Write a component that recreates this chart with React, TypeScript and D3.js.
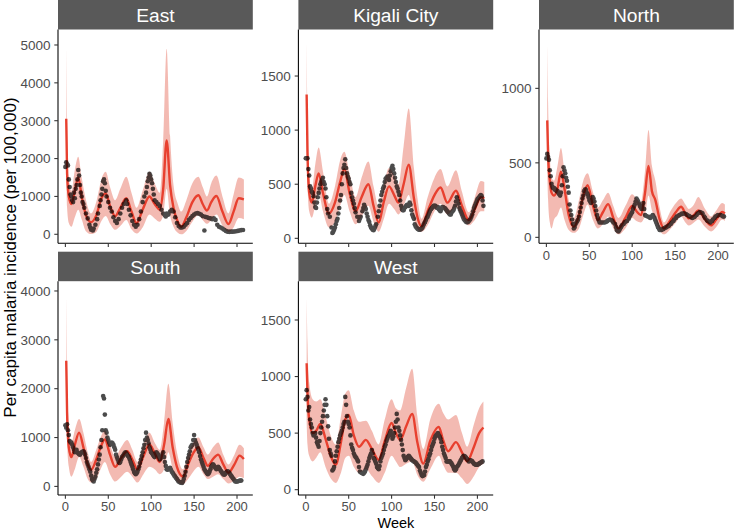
import React from "react";
import * as d3 from "d3";

type Obs = [number, number];
type Fit = [number, number, number, number]; // week, lower, mean, upper

const weekTicks = [0, 50, 100, 150, 200];

// ---------- East ----------
const eastYTicks = [0, 1000, 2000, 3000, 4000, 5000];
const eastFit: Fit[] = [
  [1, 1700, 3050, 4950], [2, 700, 1600, 2900], [4, 300, 1000, 1500], [7, 200, 800, 1150],
  [11, 450, 1150, 1700], [15, 650, 1500, 2050], [19, 400, 1000, 1500], [24, 80, 500, 900],
  [30, 5, 320, 550], [36, 60, 500, 850], [42, 350, 950, 1450], [47, 480, 1080, 1650],
  [52, 280, 750, 1250], [58, 120, 480, 900], [64, 220, 700, 1200], [71, 380, 950, 1520],
  [77, 130, 600, 1100], [83, 20, 290, 700], [90, 180, 650, 1150], [98, 520, 1000, 1650],
  [104, 420, 800, 1350], [110, 330, 650, 1100], [114, 500, 1200, 2500], [118, 1200, 2480, 4900],
  [122, 500, 1300, 2600], [126, 200, 700, 1300], [131, 40, 330, 800], [135, 0, 200, 600],
  [141, 90, 450, 900], [148, 330, 850, 1350], [155, 500, 1030, 1520], [160, 380, 800, 1250],
  [165, 280, 630, 1000], [170, 380, 850, 1350], [176, 520, 1010, 1550], [183, 230, 600, 1000],
  [190, 60, 270, 550], [196, 180, 600, 1050], [202, 430, 950, 1500], [208, 400, 920, 1450],
];
const eastObs: Obs[] = [
  [0, 1780], [1, 1900], [2, 1850], [3, 1820], [4, 1450], [5, 1250], [6, 1050], [7, 1000], [8, 900],
  [9, 850], [10, 1100], [11, 950], [12, 1200], [13, 1300], [14, 1450], [15, 1700], [16, 1550],
  [17, 1300], [18, 1100], [19, 1000], [20, 850], [21, 800], [22, 700], [24, 550], [26, 420],
  [28, 250], [29, 180], [30, 120], [32, 100], [33, 150], [35, 250], [37, 400], [38, 550], [40, 750],
  [41, 900], [42, 1050], [43, 1200], [44, 1400], [45, 1450], [46, 1350], [47, 1150], [48, 1000],
  [50, 850], [52, 700], [54, 600], [56, 450], [58, 350], [60, 300], [62, 400], [64, 550], [66, 700],
  [68, 800], [70, 850], [71, 900], [72, 800], [74, 650], [76, 500], [78, 350], [80, 250], [82, 200],
  [84, 250], [86, 400], [88, 600], [90, 850], [92, 1000], [94, 1100], [95, 1250], [96, 1400],
  [97, 1500], [98, 1600], [99, 1550], [100, 1450], [101, 1350], [102, 1200], [103, 1050], [104, 900],
  [106, 850], [108, 800], [110, 750], [112, 650], [114, 550], [116, 500], [117, 470], [118, 550],
  [120, 520], [122, 600], [124, 650], [126, 600], [128, 450], [130, 300], [132, 220], [134, 180],
  [136, 180], [138, 200], [140, 250], [142, 300], [144, 380], [146, 430], [148, 480], [150, 520],
  [152, 550], [154, 560], [156, 540], [158, 520], [160, 480], [162, 100], [163, 460], [165, 450],
  [167, 430], [169, 420], [171, 400], [173, 420], [175, 380], [177, 250], [179, 200], [181, 180],
  [183, 150], [185, 120], [187, 90], [189, 70], [191, 65], [193, 70], [195, 70], [197, 75],
  [199, 80], [201, 90], [203, 100], [205, 110], [207, 115],
];

// ---------- Kigali City ----------
const kigaliYTicks = [0, 500, 1000, 1500];
const kigaliFit: Fit[] = [
  [1, 800, 1330, 1830], [2, 500, 800, 1100], [4, 250, 420, 600], [7, 190, 330, 450],
  [11, 300, 480, 680], [15, 420, 600, 840], [20, 250, 420, 620], [27, 100, 230, 320],
  [34, 150, 330, 480], [40, 300, 520, 720], [45, 400, 640, 800], [51, 250, 420, 600],
  [58, 130, 250, 380], [65, 200, 380, 560], [73, 300, 500, 710], [79, 150, 300, 480],
  [85, 60, 145, 290], [91, 180, 340, 500], [97, 320, 480, 650], [103, 270, 400, 580],
  [108, 220, 330, 500], [114, 300, 500, 850], [120, 400, 680, 1200], [126, 180, 370, 650],
  [130, 90, 200, 380], [135, 60, 110, 180], [142, 120, 250, 380], [150, 250, 400, 560],
  [157, 320, 470, 640], [165, 220, 330, 480], [175, 290, 440, 630], [182, 200, 300, 430],
  [190, 120, 170, 240], [197, 170, 270, 380], [204, 250, 380, 530], [208, 250, 370, 520],
];
const kigaliObs: Obs[] = [
  [0, 740], [1, 740], [2, 740], [3, 640], [4, 580], [5, 480], [6, 460], [7, 430], [8, 420],
  [9, 390], [10, 330], [11, 290], [12, 280], [13, 330], [14, 380], [15, 420], [16, 460], [17, 500],
  [18, 520], [19, 540], [20, 560], [21, 520], [22, 500], [23, 460], [24, 380], [25, 270], [26, 230],
  [28, 200], [30, 100], [31, 50], [32, 60], [33, 80], [34, 100], [35, 130], [36, 160], [37, 180],
  [38, 230], [39, 280], [40, 350], [41, 400], [42, 500], [43, 600], [44, 650], [45, 680], [46, 730],
  [47, 650], [48, 600], [49, 570], [50, 550], [51, 520], [52, 500], [53, 420], [54, 380], [55, 350],
  [56, 320], [57, 280], [58, 240], [60, 200], [62, 160], [63, 180], [64, 200], [66, 250], [67, 280],
  [68, 310], [69, 290], [70, 270], [71, 230], [72, 200], [73, 170], [74, 150], [75, 120], [76, 100],
  [77, 90], [78, 80], [79, 75], [80, 90], [81, 110], [82, 130], [84, 200], [85, 250], [86, 300],
  [87, 350], [88, 400], [89, 430], [90, 460], [91, 480], [92, 520], [93, 550], [94, 560], [95, 570],
  [96, 560], [97, 540], [98, 580], [99, 620], [100, 650], [101, 670], [102, 640], [103, 600],
  [104, 560], [105, 520], [106, 480], [107, 460], [108, 430], [109, 400], [110, 350], [111, 300],
  [112, 270], [113, 260], [114, 260], [115, 280], [116, 290], [117, 300], [118, 310], [119, 300],
  [120, 300], [121, 330], [122, 310], [123, 260], [124, 220], [125, 200], [126, 180], [127, 130],
  [128, 110], [129, 100], [130, 90], [131, 85], [132, 80], [133, 80], [134, 85], [135, 90],
  [136, 100], [137, 120], [138, 140], [139, 150], [140, 170], [141, 190], [142, 200], [143, 220],
  [144, 240], [145, 260], [146, 270], [147, 280], [148, 290], [149, 300], [150, 300], [151, 300],
  [152, 290], [153, 280], [154, 290], [155, 270], [156, 260], [157, 250], [158, 270], [159, 290],
  [160, 290], [161, 280], [162, 280], [163, 270], [164, 260], [165, 250], [166, 240], [167, 230],
  [168, 220], [169, 220], [170, 240], [171, 250], [172, 260], [173, 280], [174, 300], [175, 340],
  [176, 380], [177, 350], [178, 320], [179, 280], [180, 260], [181, 240], [182, 220], [183, 200],
  [184, 180], [185, 170], [186, 160], [187, 150], [188, 150], [189, 150], [190, 160], [191, 170],
  [192, 180], [193, 200], [194, 220], [195, 250], [196, 280], [197, 300], [198, 320], [199, 340],
  [200, 360], [201, 370], [202, 380], [203, 390], [204, 400], [205, 390], [206, 350], [207, 300],
];

// ---------- North ----------
const northYTicks = [0, 500, 1000];
const northFit: Fit[] = [
  [1, 450, 785, 1300], [2, 250, 550, 900], [4, 100, 380, 550], [6, 60, 300, 400],
  [9, 120, 280, 380], [13, 150, 330, 480], [17, 200, 440, 600], [21, 120, 330, 450],
  [26, 50, 150, 250], [32, 30, 70, 130], [38, 60, 150, 250], [43, 150, 280, 380],
  [48, 220, 350, 430], [54, 120, 220, 310], [60, 60, 116, 200], [66, 90, 170, 250],
  [72, 140, 223, 300], [78, 60, 130, 210], [84, 20, 60, 130], [92, 60, 130, 210],
  [100, 130, 210, 290], [105, 110, 175, 260], [110, 100, 150, 230], [115, 150, 300, 450],
  [119, 280, 480, 720], [123, 180, 310, 480], [127, 130, 250, 380], [132, 50, 120, 200],
  [137, 20, 60, 100], [145, 60, 120, 180], [151, 100, 170, 230], [157, 140, 205, 260],
  [162, 100, 160, 220], [166, 80, 127, 190], [172, 100, 150, 220], [177, 120, 180, 270],
  [185, 70, 120, 190], [192, 40, 80, 140], [198, 70, 120, 180], [205, 120, 170, 230],
  [208, 110, 160, 220],
];
const northObs: Obs[] = [
  [0, 530], [1, 560], [2, 540], [3, 520], [4, 450], [5, 410], [6, 360], [7, 340], [8, 330], [9, 330],
  [10, 320], [11, 320], [12, 310], [13, 310], [14, 300], [15, 290], [16, 280], [17, 300], [18, 350],
  [19, 410], [20, 470], [21, 450], [22, 430], [23, 400], [24, 380], [25, 340], [26, 300], [27, 220],
  [28, 180], [29, 150], [30, 120], [31, 90], [32, 60], [33, 70], [34, 90], [35, 100], [36, 110],
  [37, 120], [38, 140], [39, 170], [40, 200], [41, 230], [42, 260], [43, 280], [44, 310], [45, 320],
  [46, 320], [47, 300], [48, 290], [49, 270], [50, 250], [51, 240], [52, 230], [53, 250], [54, 270],
  [55, 260], [56, 240], [57, 210], [58, 180], [59, 150], [60, 130], [61, 115], [62, 100], [64, 100],
  [66, 100], [68, 100], [70, 105], [71, 110], [72, 115], [74, 120], [76, 115], [77, 110], [78, 100],
  [80, 90], [81, 70], [82, 50], [83, 45], [84, 40], [85, 50], [86, 60], [87, 70], [88, 80], [90, 90],
  [91, 100], [92, 105], [94, 110], [96, 125], [97, 140], [98, 150], [99, 160], [100, 170],
  [101, 190], [102, 205], [103, 220], [104, 240], [105, 260], [106, 250], [107, 240], [108, 225],
  [109, 210], [110, 200], [111, 190], [112, 210], [113, 230], [114, 190], [115, 150], [116, 145],
  [118, 140], [120, 135], [121, 130], [122, 140], [124, 150], [125, 140], [126, 130], [127, 115],
  [128, 100], [129, 85], [130, 70], [131, 60], [132, 50], [133, 50], [134, 50], [136, 55], [137, 60],
  [139, 65], [140, 70], [142, 75], [143, 80], [145, 90], [146, 100], [148, 110], [149, 120],
  [151, 130], [152, 140], [154, 145], [155, 150], [157, 155], [158, 160], [160, 160], [161, 160],
  [163, 155], [164, 150], [166, 145], [167, 140], [169, 135], [170, 130], [172, 135], [173, 140],
  [175, 150], [176, 160], [178, 165], [179, 170], [181, 165], [182, 160], [184, 140], [185, 130],
  [187, 115], [188, 110], [190, 105], [191, 100], [193, 110], [194, 120], [196, 130], [197, 140],
  [199, 145], [200, 150], [202, 150], [203, 150], [205, 145], [206, 140], [207, 140],
];

// ---------- South ----------
const southYTicks = [0, 1000, 2000, 3000, 4000];
const southFit: Fit[] = [
  [1, 1500, 2570, 3900], [2, 900, 1500, 2400], [4, 400, 800, 1300], [7, 200, 600, 900],
  [11, 350, 850, 1150], [16, 600, 1100, 1380], [21, 400, 800, 1100], [26, 150, 450, 700],
  [30, 80, 340, 500], [36, 150, 550, 750], [41, 350, 800, 1000], [46, 500, 960, 1150],
  [52, 250, 650, 850], [58, 100, 400, 600], [65, 200, 580, 800], [72, 300, 720, 950],
  [78, 200, 550, 750], [84, 80, 350, 500], [91, 250, 620, 850], [98, 400, 860, 1100],
  [104, 350, 680, 900], [110, 250, 500, 750], [115, 350, 850, 1300], [120, 700, 1380, 2100],
  [125, 350, 800, 1300], [130, 100, 400, 700], [137, 40, 200, 350], [143, 150, 450, 650],
  [149, 300, 680, 900], [155, 400, 800, 1000], [161, 250, 580, 800], [166, 150, 420, 650],
  [172, 200, 560, 800], [178, 250, 650, 900], [184, 150, 450, 650], [190, 60, 280, 450],
  [197, 120, 450, 650], [203, 200, 630, 850], [208, 170, 560, 780],
];
const southObs: Obs[] = [
  [0, 1250], [1, 1200], [2, 1270], [3, 1150], [4, 1050], [5, 930], [6, 900], [7, 900], [8, 850],
  [9, 800], [10, 750], [11, 700], [12, 720], [13, 750], [14, 700], [15, 680], [16, 660], [17, 650],
  [18, 680], [19, 700], [20, 710], [21, 720], [22, 700], [23, 650], [24, 580], [25, 500], [26, 450],
  [27, 400], [28, 350], [29, 300], [30, 220], [31, 150], [32, 120], [33, 100], [34, 150], [35, 200],
  [36, 280], [37, 350], [38, 450], [39, 550], [40, 650], [41, 800], [42, 950], [43, 1150],
  [44, 1850], [45, 1800], [46, 1470], [47, 1150], [48, 1100], [49, 1000], [50, 950], [51, 900],
  [52, 850], [53, 880], [54, 900], [55, 880], [56, 850], [57, 800], [58, 750], [59, 650], [60, 600],
  [61, 550], [62, 500], [63, 480], [64, 500], [65, 550], [66, 600], [67, 620], [68, 650], [69, 680],
  [70, 700], [71, 680], [72, 650], [73, 620], [74, 600], [75, 550], [76, 500], [77, 450], [78, 400],
  [79, 350], [80, 300], [81, 270], [82, 250], [83, 270], [84, 300], [85, 350], [86, 400], [87, 480],
  [88, 550], [89, 620], [90, 700], [91, 780], [92, 850], [93, 950], [94, 1100], [95, 1000],
  [96, 950], [97, 880], [98, 800], [99, 750], [100, 700], [101, 680], [102, 650], [103, 620],
  [104, 600], [105, 650], [106, 700], [107, 680], [108, 650], [109, 600], [110, 550], [111, 570],
  [112, 600], [113, 650], [114, 700], [115, 600], [116, 500], [117, 420], [118, 350], [119, 340],
  [120, 350], [121, 370], [122, 380], [123, 340], [124, 300], [125, 280], [126, 250], [127, 220],
  [128, 200], [129, 170], [130, 150], [131, 120], [132, 100], [133, 90], [134, 80], [135, 75],
  [136, 70], [137, 100], [138, 150], [139, 220], [140, 300], [141, 400], [142, 500], [143, 580],
  [144, 650], [145, 720], [146, 800], [147, 830], [148, 850], [149, 950], [150, 1050], [151, 950],
  [152, 900], [153, 850], [154, 800], [155, 750], [156, 700], [157, 620], [158, 550], [159, 500],
  [160, 450], [161, 400], [162, 350], [163, 320], [164, 300], [165, 270], [166, 250], [167, 270],
  [168, 300], [169, 350], [170, 400], [171, 430], [172, 450], [173, 430], [174, 400], [175, 370],
  [176, 350], [177, 380], [178, 400], [179, 380], [180, 350], [181, 320], [182, 300], [183, 270],
  [184, 250], [185, 240], [186, 250], [187, 280], [188, 300], [189, 310], [190, 300], [191, 280],
  [192, 250], [193, 220], [194, 200], [195, 170], [196, 150], [197, 120], [198, 100], [199, 100],
  [200, 100], [201, 105], [202, 110], [203, 115], [204, 120], [205, 120],
];

// ---------- West ----------
const westYTicks = [0, 500, 1000, 1500];
const westFit: Fit[] = [
  [1, 600, 1118, 1700], [2, 400, 850, 1300], [4, 300, 620, 950], [8, 250, 500, 800],
  [12, 280, 520, 780], [17, 330, 580, 800], [23, 200, 450, 650], [29, 100, 300, 480],
  [35, 60, 220, 400], [41, 150, 420, 650], [46, 280, 620, 850], [50, 300, 660, 880],
  [56, 200, 480, 700], [62, 150, 380, 600], [70, 180, 440, 610], [77, 120, 360, 520],
  [85, 60, 265, 400], [92, 150, 430, 620], [100, 300, 590, 800], [105, 250, 500, 720],
  [110, 200, 440, 700], [117, 230, 560, 900], [124, 250, 670, 1070], [130, 130, 420, 650],
  [137, 70, 230, 360], [145, 180, 430, 620], [155, 300, 555, 760], [160, 220, 440, 680],
  [166, 150, 340, 620], [175, 150, 420, 660], [182, 100, 330, 500], [188, 50, 250, 380],
  [196, 120, 380, 580], [202, 200, 500, 720], [207, 230, 550, 780],
];
const westObs: Obs[] = [
  [0, 800], [1, 880], [2, 820], [3, 700], [4, 730], [5, 620], [6, 580], [7, 550], [8, 500], [9, 480],
  [10, 490], [11, 500], [12, 460], [13, 420], [14, 400], [15, 380], [16, 430], [17, 500], [18, 550],
  [19, 600], [20, 650], [21, 700], [22, 750], [23, 800], [24, 750], [25, 650], [26, 560], [27, 450],
  [28, 350], [29, 320], [30, 300], [31, 170], [32, 180], [33, 200], [34, 250], [35, 300], [36, 340],
  [37, 380], [38, 420], [39, 450], [40, 480], [41, 500], [42, 520], [43, 550], [44, 580], [45, 600],
  [46, 820], [47, 750], [48, 650], [49, 600], [50, 580], [51, 550], [52, 480], [53, 400], [54, 370],
  [55, 350], [56, 320], [57, 300], [58, 290], [59, 280], [60, 265], [61, 250], [62, 200], [63, 160],
  [64, 155], [65, 150], [66, 145], [67, 140], [68, 150], [69, 160], [70, 180], [71, 200], [72, 220],
  [73, 250], [74, 280], [75, 300], [76, 320], [77, 350], [78, 320], [79, 280], [80, 270], [81, 250],
  [82, 230], [83, 200], [84, 190], [85, 180], [86, 210], [87, 250], [88, 280], [89, 300], [90, 320],
  [91, 350], [92, 380], [93, 400], [94, 430], [95, 450], [96, 470], [97, 480], [98, 500], [99, 520],
  [100, 480], [101, 450], [102, 470], [103, 500], [104, 550], [105, 600], [106, 670], [107, 620],
  [108, 550], [109, 520], [110, 480], [111, 440], [112, 400], [113, 350], [114, 300], [115, 280],
  [116, 260], [117, 270], [118, 280], [119, 290], [120, 300], [121, 290], [122, 280], [123, 270],
  [124, 260], [125, 255], [126, 250], [127, 245], [128, 240], [129, 230], [130, 220], [131, 210],
  [132, 200], [133, 170], [134, 150], [135, 130], [136, 120], [137, 125], [138, 130], [139, 160],
  [140, 200], [141, 220], [142, 250], [143, 270], [144, 300], [145, 320], [146, 350], [147, 380],
  [148, 400], [149, 420], [150, 450], [151, 470], [152, 480], [153, 490], [154, 500], [155, 480],
  [156, 470], [157, 450], [158, 420], [159, 380], [160, 350], [161, 320], [162, 300], [163, 280],
  [164, 250], [165, 250], [166, 250], [167, 250], [168, 250], [169, 240], [170, 230], [171, 215],
  [172, 200], [173, 180], [174, 170], [175, 180], [176, 200], [177, 210], [178, 220], [179, 235],
  [180, 250], [181, 265], [182, 280], [183, 290], [184, 300], [185, 295], [186, 290], [187, 280],
  [188, 270], [189, 260], [190, 250], [191, 255], [192, 260], [193, 255], [194, 250], [195, 240],
  [196, 230], [197, 225], [198, 220], [199, 220], [200, 220], [201, 225], [202, 230], [203, 235],
  [204, 240], [205, 245], [206, 250],
];

const regionNames = ["East", "Kigali City", "North", "South", "West"];

// ---------- layout ----------
const W = 735;
const H = 531;
const colX = [58, 298.4, 539];
const panelW = 194.8;
const stripH = 29.5;
const rowTop = [0, 251.7];
const panelH = 213.8;
const xDomain: [number, number] = [-8.6, 218.4];

const FONT = "'Liberation Sans', Arial, Helvetica, sans-serif";
const RIBBON = "#e04a35";
const LINE = "#e8402f";
const DOT = "#000000";

interface PanelSpec {
  name: string;
  obs: Obs[];
  fit: Fit[];
  yTicks: number[];
  yDomain: [number, number];
  col: number;
  row: number;
  xLabels: boolean;
}

const panels: PanelSpec[] = [
  { name: regionNames[0], obs: eastObs, fit: eastFit, yTicks: eastYTicks, yDomain: [-238, 5409], col: 0, row: 0, xLabels: false },
  { name: regionNames[1], obs: kigaliObs, fit: kigaliFit, yTicks: kigaliYTicks, yDomain: [-46, 1930], col: 1, row: 0, xLabels: false },
  { name: regionNames[2], obs: northObs, fit: northFit, yTicks: northYTicks, yDomain: [-40, 1395], col: 2, row: 0, xLabels: true },
  { name: regionNames[3], obs: southObs, fit: southFit, yTicks: southYTicks, yDomain: [-176, 4200], col: 0, row: 1, xLabels: true },
  { name: regionNames[4], obs: westObs, fit: westFit, yTicks: westYTicks, yDomain: [-47, 1843], col: 1, row: 1, xLabels: true },
];

function Panel({ p }: { p: PanelSpec }) {
  const x0 = colX[p.col];
  const top = rowTop[p.row] + stripH;
  const bottom = top + panelH;
  const x = d3.scaleLinear().domain(xDomain).range([x0, x0 + panelW]);
  const y = d3.scaleLinear().domain(p.yDomain).range([bottom, top]);
  const clipId = `clip-${p.col}-${p.row}`;

  const area = d3
    .area<Fit>()
    .x((d) => x(d[0]))
    .y0((d) => y(d[1]))
    .y1((d) => y(d[3]))
    .curve(d3.curveMonotoneX);
  const line = d3
    .line<Fit>()
    .x((d) => x(d[0]))
    .y((d) => y(d[2]))
    .curve(d3.curveMonotoneX);

  return (
    <g>
      <defs>
        <clipPath id={clipId}>
          <rect x={x0} y={top} width={panelW} height={panelH} />
        </clipPath>
      </defs>
      {/* strip */}
      <rect x={x0} y={rowTop[p.row]} width={panelW} height={stripH} fill="#595959" />
      <text
        x={x0 + panelW / 2}
        y={rowTop[p.row] + 22.3}
        textAnchor="middle"
        fill="#ffffff"
        fontSize={19.2}
        fontFamily={FONT}
      >
        {p.name}
      </text>
      <g clipPath={`url(#${clipId})`}>
        <path d={area(p.fit) ?? ""} fill={RIBBON} fillOpacity={0.38} />
        <path d={line(p.fit) ?? ""} fill="none" stroke={LINE} strokeWidth={2.4} />
        <g opacity={0.7}>
          {p.obs.map((d, i) => (
            <circle key={i} cx={x(d[0])} cy={y(d[1])} r={2.3} fill={DOT} />
          ))}
        </g>
      </g>
      {/* axes */}
      <line x1={x0} x2={x0} y1={top} y2={bottom} stroke="#000" strokeWidth={1.07} />
      <line x1={x0} x2={x0 + panelW} y1={bottom} y2={bottom} stroke="#000" strokeWidth={1.07} />
      {p.yTicks.map((t) => (
        <g key={t}>
          <line x1={x0 - 3.7} x2={x0} y1={y(t)} y2={y(t)} stroke="#333" strokeWidth={1.07} />
          <text
            x={x0 - 7.5}
            y={y(t) + 4.8}
            textAnchor="end"
            fill="#4d4d4d"
            fontSize={13.5}
            fontFamily={FONT}
          >
            {t}
          </text>
        </g>
      ))}
      {weekTicks.map((t) => (
        <g key={t}>
          <line x1={x(t)} x2={x(t)} y1={bottom} y2={bottom + 3.7} stroke="#333" strokeWidth={1.07} />
          {p.xLabels && (
            <text
              x={x(t)}
              y={bottom + 16.2}
              textAnchor="middle"
              fill="#4d4d4d"
              fontSize={13}
              fontFamily={FONT}
            >
              {t}
            </text>
          )}
        </g>
      ))}
    </g>
  );
}

export default function App() {
  return (
    <svg width={W} height={H} style={{ display: "block", position: "absolute", left: 0, top: 0 }}>
      <rect width={W} height={H} fill="#fff" />
      {panels.map((p) => (
        <Panel key={p.name} p={p} />
      ))}
      <text
        x={(colX[0] + colX[2] + panelW) / 2}
        y={527.5}
        textAnchor="middle"
        fill="#000"
        fontSize={14.5}
        fontFamily={FONT}
      >
        Week
      </text>
      <text
        transform={`translate(16, 257.5) rotate(-90)`}
        textAnchor="middle"
        fill="#000"
        fontSize={17}
        fontFamily={FONT}
      >
        Per capita malaria incidence (per 100,000)
      </text>
    </svg>
  );
}
